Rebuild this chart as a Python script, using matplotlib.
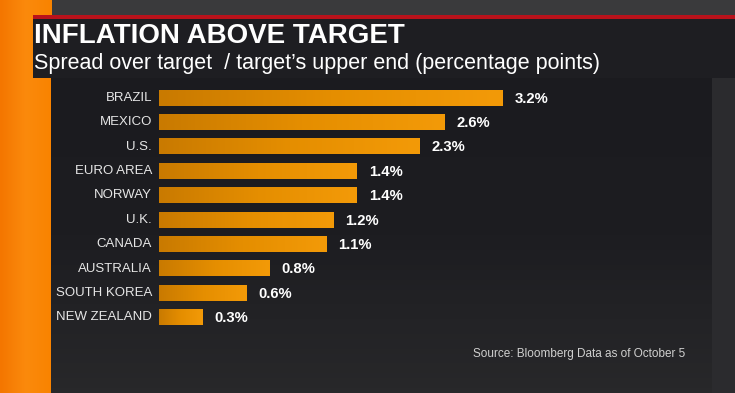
import numpy as np
import matplotlib
matplotlib.use("Agg")
from matplotlib import pyplot as plt
from matplotlib.patches import Rectangle
from matplotlib.colors import LinearSegmentedColormap

countries = ["BRAZIL", "MEXICO", "U.S.", "EURO AREA", "NORWAY", "U.K.",
             "CANADA", "AUSTRALIA", "SOUTH KOREA", "NEW ZEALAND"]
spread_labels = ["3.2%", "2.6%", "2.3%", "1.4%", "1.4%", "1.2%",
                 "1.1%", "0.8%", "0.6%", "0.3%"]
# bar lengths as drawn in the graphic (percentage points)
bar_lengths = [2.36, 1.96, 1.79, 1.36, 1.36, 1.20, 1.15, 0.76, 0.60, 0.30]

W, H = 735, 393
fig = plt.figure(figsize=(W / 100, H / 100), dpi=100)

# background layer in pixel coordinates
bg = fig.add_axes([0, 0, 1, 1])
bg.set_xlim(0, W)
bg.set_ylim(H, 0)
bg.axis("off")

def rect(x0, y0, x1, y1, color):
    bg.add_patch(Rectangle((x0, y0), x1 - x0, y1 - y0, color=color, lw=0))

rect(0, 0, W, H, "#3a3a3c")
orange = LinearSegmentedColormap.from_list("o", ["#f47600", "#fb8a0c", "#f98300"])
bg.imshow(np.linspace(0, 1, 64)[None, :], cmap=orange, aspect="auto",
          extent=(0, 52, H, 0), zorder=1)
rect(33, 15, W, 19, "#b9121b")
rect(33, 19, W, 78, "#1e1e22")
rect(712, 78, W, H, "#2b2b2e")
panel = LinearSegmentedColormap.from_list("p", ["#1b1b1f", "#1d1d21", "#28282a"])
bg.imshow(np.linspace(0, 1, 64)[:, None], cmap=panel, aspect="auto",
          extent=(51, 712, H, 78), zorder=2)

fig.text(34 / W, 1 - 36 / H, "INFLATION ABOVE TARGET", color="white",
         fontsize=20, fontweight="bold", va="center", ha="left",
         family=["Liberation Sans"])
fig.text(34 / W, 1 - 63 / H,
         "Spread over target  / target\u2019s upper end (percentage points)",
         color="white", fontsize=15.5, va="center", ha="left",
         family=["Liberation Sans"])
fig.text(685 / W, 1 - 354 / H, "Source: Bloomberg Data as of October 5",
         color="#d0d0d0", fontsize=8.5, va="center", ha="right",
         family=["Liberation Sans"])

# bars
px_per_unit = 145.5
ax = fig.add_axes([159 / W, 1 - 329.5 / H, (712 - 159) / W, 244 / H])
ax.axis("off")
ax.patch.set_alpha(0)

bar_cmap = LinearSegmentedColormap.from_list("b", ["#c97a00", "#e58e00", "#f39a08"])
grad = np.linspace(0, 1, 128)[None, :]
for i, (name, length, lab) in enumerate(zip(countries, bar_lengths, spread_labels)):
    ax.imshow(grad, cmap=bar_cmap, aspect="auto",
              extent=(0, length, i + 0.32, i - 0.32), zorder=2)
    ax.annotate(name, (0, i), xytext=(-5, 0), textcoords="offset points",
                ha="right", va="center", color="#e6e6e6", fontsize=9.5,
                family=["Liberation Sans"])
    ax.annotate(lab, (length, i), xytext=(8.6, -0.6), textcoords="offset points",
                ha="left", va="center", color="white", fontsize=10.7,
                fontweight="bold", family=["Liberation Sans"])
ax.set_xlim(0, (712 - 159) / px_per_unit)
ax.set_ylim(len(countries) - 0.5, -0.5)

fig.savefig("out.png", dpi=100)
